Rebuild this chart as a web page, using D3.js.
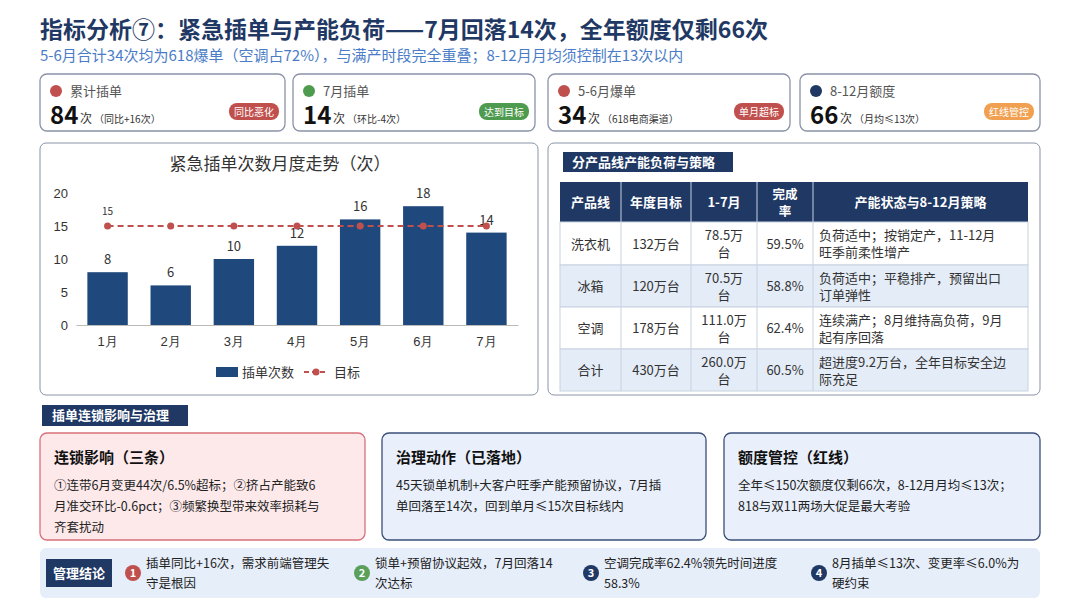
<!DOCTYPE html>
<html><head><meta charset="utf-8">
<script src="https://cdn.jsdelivr.net/npm/d3@7"></script>
<style>body{margin:0;background:#fff;font-family:"Noto Sans CJK SC","Noto Sans",sans-serif}</style>
</head><body><svg width="1080" height="608"></svg>
<script>
var months = ["1月","2月","3月","4月","5月","6月","7月"]
var inserts = [8,6,10,12,16,18,14]
var target = [15,15,15,15,15,15,15]
var kpiTitles = ["累计插单","7月插单","5-6月爆单","8-12月额度"]
var kpiValues = ["84","14","34","66"]
var kpiNotes = ["（同比+16次）","（环比-4次）","（618电商渠道）","（月均≤13次）"]
var kpiBadges = ["同比恶化","达到目标","单月超标","红线管控"]
var badgeColors = ["#c0504d","#4e9a4e","#c0504d","#f0a050"]
var tableHead = ["产品线","年度目标","1-7月","完成率","产能状态与8-12月策略"]
var tableRows = [
  ["洗衣机","132万台","78.5万|台","59.5%","负荷适中；按销定产，11-12月|旺季前柔性增产"],
  ["冰箱","120万台","70.5万|台","58.8%","负荷适中；平稳排产，预留出口|订单弹性"],
  ["空调","178万台","111.0万|台","62.4%","连续满产；8月维持高负荷，9月|起有序回落"],
  ["合计","430万台","260.0万|台","60.5%","超进度9.2万台，全年目标安全边|际充足"]]
var cardTitles = ["连锁影响（三条）","治理动作（已落地）","额度管控（红线）"]
var cardTexts = [
  ["①连带6月变更44次/6.5%超标；②挤占产能致6","月准交环比-0.6pct；③频繁换型带来效率损耗与","齐套扰动"],
  ["45天锁单机制+大客户旺季产能预留协议，7月插","单回落至14次，回到单月≤15次目标线内"],
  ["全年≤150次额度仅剩66次，8-12月月均≤13次；","818与双11两场大促是最大考验"]]
var conclusions = [["插单同比+16次，需求前端管理失","守是根因"],["锁单+预留协议起效，7月回落14","次达标"],["空调完成率62.4%领先时间进度","58.3%"],["8月插单≤13次、变更率≤6.0%为","硬约束"]]
var conclColors = ["#c0504d","#5aa05a","#1f3864","#1f3864"]

var navy = "#1f3864", bar = "#1f497d"
var svg = d3.select("svg")

svg.append("text").attr("x",40).attr("y",38).attr("font-size",23).attr("font-weight","bold").attr("fill",navy)
  .text("指标分析⑦：紧急插单与产能负荷——7月回落14次，全年额度仅剩66次")
svg.append("text").attr("x",40).attr("y",61).attr("font-size",15).attr("fill","#4a7cc7")
  .text("5-6月合计34次均为618爆单（空调占72%），与满产时段完全重叠；8-12月月均须控制在13次以内")

// KPI cards
var kx = [40,293,548,800], kw = [245,242,242,240]
kpiTitles.forEach(function(t,i){
  var g = svg.append("g").attr("transform","translate("+kx[i]+",74)")
  g.append("rect").attr("width",kw[i]).attr("height",57).attr("rx",7).attr("fill","#fff").attr("stroke","#8a93a8").attr("stroke-width",1.3)
  g.append("circle").attr("cx",16).attr("cy",17).attr("r",6).attr("fill",badgeColors[i]=="#f0a050"?navy:badgeColors[i])
  g.append("text").attr("x",30).attr("y",22).attr("font-size",13).attr("fill","#555").text(t)
  g.append("text").attr("x",10).attr("y",50).attr("font-size",24).attr("font-weight","bold").attr("fill","#111").text(kpiValues[i])
  g.append("text").attr("x",40).attr("y",49).attr("font-size",12).attr("fill","#333").text("次 ")
  g.append("text").attr("x",54).attr("y",49).attr("font-size",10).attr("fill","#333").text(kpiNotes[i])
  g.append("rect").attr("x",kw[i]-56).attr("y",29).attr("width",50).attr("height",17).attr("rx",8).attr("fill",badgeColors[i])
  g.append("text").attr("x",kw[i]-31).attr("y",41.5).attr("text-anchor","middle").attr("font-size",10).attr("fill","#fff").text(kpiBadges[i])
})

// chart panel
svg.append("rect").attr("x",40).attr("y",143).attr("width",498).attr("height",252).attr("rx",6).attr("fill","#fff").attr("stroke","#8a93a8")
svg.append("text").attr("x",280).attr("y",170).attr("text-anchor","middle").attr("font-size",17).attr("fill","#333").text("紧急插单次数月度走势（次）")
var x = d3.scaleBand().domain(months).range([76,518]).paddingInner(0.36).paddingOuter(0.18)
var y = d3.scaleLinear().domain([0,20]).range([325,193])
var chart = svg.append("g")
var ya = chart.append("g").attr("transform","translate(78,0)").call(d3.axisLeft(y).ticks(4).tickSize(0).tickPadding(10))
ya.select(".domain").remove()
ya.selectAll("text").attr("font-size",13).attr("fill","#333")
var xa = chart.append("g").attr("transform","translate(0,325)").call(d3.axisBottom(x).tickSize(0).tickPadding(12))
xa.select(".domain").attr("stroke","#bbb")
xa.selectAll("text").attr("font-size",13).attr("fill","#333")
chart.selectAll(".bar").data(inserts).enter().append("rect")
  .attr("x",(d,i)=>x(months[i])).attr("y",d=>y(d)).attr("width",x.bandwidth()).attr("height",d=>325-y(d)).attr("fill",bar)
chart.selectAll(".bl").data(inserts).enter().append("text")
  .attr("x",(d,i)=>x(months[i])+x.bandwidth()/2).attr("y",d=>y(d)-8).attr("text-anchor","middle").attr("font-size",13).attr("fill","#333").text(d=>d)
var line = d3.line().x((d,i)=>x(months[i])+x.bandwidth()/2).y(d=>y(d))
chart.append("path").attr("d",line(target)).attr("fill","none").attr("stroke","#c0504d").attr("stroke-width",1.8).attr("stroke-dasharray","6,4")
chart.selectAll(".td").data(target).enter().append("circle")
  .attr("cx",(d,i)=>x(months[i])+x.bandwidth()/2).attr("cy",d=>y(d)).attr("r",3.5).attr("fill","#c0504d")
chart.append("text").attr("x",x(months[0])+x.bandwidth()/2).attr("y",y(15)-11).attr("text-anchor","middle").attr("font-size",10).attr("fill","#333").text(target[0])
var lg = svg.append("g").attr("transform","translate(216,373)")
lg.append("rect").attr("x",0).attr("y",-6).attr("width",22).attr("height",10).attr("fill",bar)
lg.append("text").attr("x",26).attr("y",4).attr("font-size",13).attr("fill","#333").text("插单次数")
lg.append("line").attr("x1",88).attr("x2",112).attr("y1",-1).attr("y2",-1).attr("stroke","#c0504d").attr("stroke-width",1.8).attr("stroke-dasharray","5,3")
lg.append("circle").attr("cx",100).attr("cy",-1).attr("r",3.5).attr("fill","#c0504d")
lg.append("text").attr("x",118).attr("y",4).attr("font-size",13).attr("fill","#333").text("目标")

// table panel
svg.append("rect").attr("x",548).attr("y",143).attr("width",492).attr("height",252).attr("rx",6).attr("fill","#fff").attr("stroke","#8a93a8")
svg.append("rect").attr("x",563).attr("y",152).attr("width",170).attr("height",20).attr("fill",navy)
svg.append("text").attr("x",572).attr("y",167).attr("font-size",13).attr("font-weight","bold").attr("fill","#fff").text("分产品线产能负荷与策略")
var cx = [560,621,691,757,813,1028]
var ry = [182,222,265,307,349,391]
svg.append("rect").attr("x",cx[0]).attr("y",ry[0]).attr("width",cx[5]-cx[0]).attr("height",ry[1]-ry[0]).attr("fill",navy)
tableHead.forEach(function(h,j){
  var lines = j==3 ? ["完成","率"] : [h]
  lines.forEach(function(l,k){
    svg.append("text").attr("x",(cx[j]+cx[j+1])/2).attr("y",(ry[0]+ry[1])/2+5+(lines.length>1?(k-0.5)*17:0))
      .attr("text-anchor","middle").attr("font-size",lines.length>1?12.5:13).attr("font-weight","bold").attr("fill","#fff").text(l)
  })
})
tableRows.forEach(function(r,i){
  svg.append("rect").attr("x",cx[0]).attr("y",ry[i+1]).attr("width",cx[5]-cx[0]).attr("height",ry[i+2]-ry[i+1])
    .attr("fill",i%2?"#e4ecf7":"#fff").attr("stroke","#c8d2e0")
  r.forEach(function(c,j){
    var lines = c.split("|"), left = j==4
    lines.forEach(function(l,k){
      svg.append("text").attr("x",left?cx[j]+6:(cx[j]+cx[j+1])/2)
        .attr("y",(ry[i+1]+ry[i+2])/2+5+(lines.length>1?(k-0.5)*17:0))
        .attr("text-anchor",left?"start":"middle").attr("font-size",13).attr("fill","#333").text(l)
    })
  })
})
cx.slice(1,5).forEach(function(v){svg.append("line").attr("x1",v).attr("x2",v).attr("y1",ry[0]).attr("y2",ry[5]).attr("stroke","#c8d2e0")})

// section label
svg.append("rect").attr("x",42).attr("y",405).attr("width",146).attr("height",21).attr("fill",navy)
svg.append("text").attr("x",52).attr("y",420).attr("font-size",13).attr("font-weight","bold").attr("fill","#fff").text("插单连锁影响与治理")

var ccx = [40,382,724], ccw = [325,324,316]
cardTitles.forEach(function(t,i){
  var g = svg.append("g").attr("transform","translate("+ccx[i]+",433)")
  g.append("rect").attr("width",ccw[i]).attr("height",107).attr("rx",7)
    .attr("fill",i==0?"#fde9ea":"#e9f0fb").attr("stroke",i==0?"#d9707a":"#3a4f7a").attr("stroke-width",1.3)
  g.append("text").attr("x",14).attr("y",30).attr("font-size",15).attr("font-weight","bold").attr("fill","#111").text(t)
  cardTexts[i].forEach(function(l,k){
    g.append("text").attr("x",14).attr("y",57+k*21).attr("font-size",12.5).attr("fill","#222").text(l)
  })
})

// conclusions
svg.append("rect").attr("x",40).attr("y",548).attr("width",1000).attr("height",50).attr("rx",6).attr("fill","#e6eefa")
svg.append("rect").attr("x",46).attr("y",559).attr("width",66).attr("height",28).attr("fill",navy)
svg.append("text").attr("x",79).attr("y",578).attr("text-anchor","middle").attr("font-size",13).attr("font-weight","bold").attr("fill","#fff").text("管理结论")
var ox = [133,362,591,819]
conclusions.forEach(function(c,i){
  svg.append("circle").attr("cx",ox[i]).attr("cy",573).attr("r",8).attr("fill",conclColors[i])
  svg.append("text").attr("x",ox[i]).attr("y",577).attr("text-anchor","middle").attr("font-size",11).attr("font-weight","bold").attr("fill","#fff").text(i+1)
  c.forEach(function(l,k){
    svg.append("text").attr("x",ox[i]+13).attr("y",568+k*20).attr("font-size",12.5).attr("fill","#222").text(l)
  })
})
</script></body></html>
